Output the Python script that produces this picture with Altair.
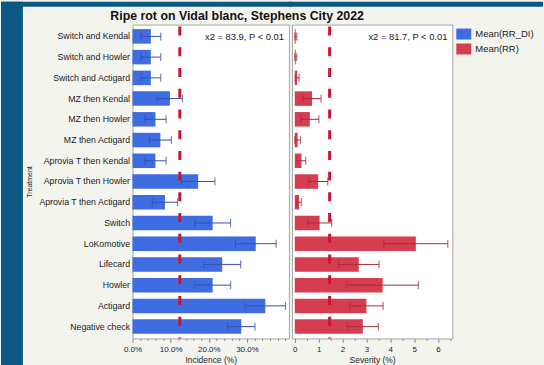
import altair as alt
import pandas as pd

# Treatments, top to bottom
treatments = [
    "Switch and Kendal", "Switch and Howler", "Switch and Actigard",
    "MZ then Kendal", "MZ then Howler", "MZ then Actigard",
    "Aprovia T then Kendal", "Aprovia T then Howler", "Aprovia T then Actigard",
    "Switch", "LoKomotive", "Lifecard", "Howler", "Actigard", "Negative check",
]

# Ripe rot incidence (%), mean and standard error
incidence_mean = [4.8, 4.8, 4.8, 9.8, 6.0, 7.3, 6.0, 17.2, 8.5, 21.0, 32.3, 23.5, 21.0, 34.8, 28.5]
incidence_err = [2.6, 2.6, 2.6, 3.3, 2.8, 2.9, 2.8, 4.4, 3.3, 4.7, 5.35, 4.85, 4.7, 5.3, 3.6]

# Ripe rot severity (%), mean and standard error
severity_mean = [0.04, 0.04, 0.1, 0.72, 0.63, 0.12, 0.28, 0.98, 0.18, 1.04, 5.07, 2.68, 3.68, 3.0, 2.85]
severity_err = [0.04, 0.04, 0.08, 0.38, 0.38, 0.12, 0.18, 0.4, 0.1, 0.5, 1.34, 0.85, 1.5, 0.7, 0.65]

incidence_ref = 12.4
severity_ref = 1.46
incidence_stat = "x2 = 83.9, P < 0.01"
severity_stat = "x2 = 81.7, P < 0.01"
chart_title = "Ripe rot on Vidal blanc, Stephens City 2022"

# Axis ticks
incidence_major = [0, 10, 20, 30]
incidence_minor = [2, 4, 6, 8, 12, 14, 16, 18, 22, 24, 26, 28, 32, 34, 36, 38, 40]
severity_major = [0, 1, 2, 3, 4, 5, 6]
severity_minor = [0.5, 1.5, 2.5, 3.5, 4.5, 5.5, 6.5]

series = ["Mean(RR_DI)", "Mean(RR)"]
series_colors = ["#3d6de0", "#d63e4f"]

FONT = "Liberation Sans"
FRAME_BLUE = "#0b5883"
PANEL_BG = "#f4f4ef"
W_LEFT, W_RIGHT, H = 157, 161, 315
GAP = 3


def one_row(**cols):
    return pd.DataFrame({k: [v] for k, v in cols.items()})


def make_df(means, errs, name):
    return pd.DataFrame({
        "Treatment": treatments,
        "mean": means,
        "lo": [max(m - e, 0) for m, e in zip(means, errs)],
        "hi": [m + e for m, e in zip(means, errs)],
        "base": [0] * len(means),
        "series": [name] * len(means),
    })


color_enc = alt.Color(
    "series:N",
    scale=alt.Scale(domain=series, range=series_colors),
    legend=alt.Legend(
        title=None, orient="none", legendX=325, legendY=2,
        symbolType="M-1,-0.733H1V0.733H-1Z", symbolSize=225,
        symbolStrokeWidth=0, labelFontSize=9.5, labelFont=FONT,
        labelColor="#1a1a1a", rowPadding=2, labelOffset=4,
    ),
)


def rect_deco(x1, x2, y1, y2):
    return alt.Chart(one_row(k=0)).mark_rect(color=FRAME_BLUE).encode(
        x=alt.value(x1), x2=alt.value(x2), y=alt.value(y1), y2=alt.value(y2)
    )


def panel(df, domain, width, major, minor, label_expr, xtitle, ref, stat,
          err_color, y_axis, extras):
    x_scale = alt.Scale(domain=domain, nice=False, zero=False)
    major_axis = alt.Axis(
        values=major, labelExpr=label_expr, title=xtitle, orient="bottom",
        labelFlush=False, labelOverlap=False, domain=False, grid=False,
        tickSize=4,
    )
    minor_axis = alt.Axis(
        values=minor, labels=False, title=None, orient="bottom",
        domain=False, grid=False, tickSize=2,
    )
    y_enc = alt.Y(
        "Treatment:N", sort=treatments,
        scale=alt.Scale(paddingInner=0.3, paddingOuter=0.22),
        axis=y_axis,
    )
    base = alt.Chart(df)
    bars = base.mark_bar().encode(
        x=alt.X("mean:Q", scale=x_scale, axis=major_axis), x2="base:Q",
        y=y_enc, color=color_enc,
    )
    err = base.mark_rule(color=err_color, strokeWidth=1).encode(
        x=alt.X("lo:Q", axis=None), x2="hi:Q", y=y_enc
    )
    cap_lo = base.mark_tick(color=err_color, size=8, thickness=1.2).encode(
        x=alt.X("lo:Q", axis=None), y=y_enc
    )
    cap_hi = base.mark_tick(color=err_color, size=8, thickness=1.2).encode(
        x=alt.X("hi:Q", axis=None), y=y_enc
    )
    ref_line = alt.Chart(one_row(ref=ref)).mark_rule(
        color="#cc1230", strokeWidth=3, strokeDash=[9, 11.8],
        strokeDashOffset=18.8,
    ).encode(x=alt.X("ref:Q", axis=minor_axis))
    stat_text = alt.Chart(one_row(stat=stat)).mark_text(
        align="right", baseline="middle", fontSize=9.4, font=FONT, color="#1a1a1a"
    ).encode(x=alt.value(width - 5), y=alt.value(12), text="stat:N")
    return alt.layer(
        *extras, bars, err, cap_lo, cap_hi, ref_line, stat_text
    ).resolve_axis(x="independent").properties(width=width, height=H)


df_inc = make_df(incidence_mean, incidence_err, series[0])
df_sev = make_df(severity_mean, severity_err, series[1])

title_text = alt.Chart(one_row(t=chart_title)).mark_text(
    align="center", baseline="alphabetic", fontSize=12.4, fontWeight="bold",
    font=FONT, color="#111111"
).encode(x=alt.value(105), y=alt.value(-5), text="t:N")

left = panel(
    df_inc, [0, 41], W_LEFT, incidence_major, incidence_minor,
    "format(datum.value, '.1f') + '%'",
    "Incidence (%)", incidence_ref, incidence_stat, "#3550b0",
    alt.Axis(title="Treatment", ticks=False, domain=False, labelPadding=3,
             labelFontSize=8.8, titleFontSize=7, titlePadding=5,
             titleFontWeight="normal"),
    [rect_deco(-132, -110, -23, 342), rect_deco(-132, W_LEFT + GAP, -23, -18), title_text],
)

right = panel(
    df_sev, [-0.12, 6.6], W_RIGHT, severity_major, severity_minor,
    "format(datum.value, 'd')",
    "Severity (%)", severity_ref, severity_stat, "#a52c3c",
    None,
    [rect_deco(-GAP, 252, -23, -18)],
)

chart = alt.hconcat(left, right, spacing=GAP, bounds="flush").resolve_scale(
    color="shared"
).properties(
    background=PANEL_BG, padding=0
).configure_view(
    fill="white", stroke="#a5a5a5", strokeWidth=1
).configure_axis(
    labelFont=FONT, titleFont=FONT, labelColor="#1a1a1a", titleColor="#1a1a1a",
    labelFontSize=8, titleFontSize=8.5, titleFontWeight="normal",
    tickColor="#8a8a8a", labelPadding=3, titlePadding=2,
)

chart.save("out.html", embed_options={"renderer": "svg", "actions": False})
